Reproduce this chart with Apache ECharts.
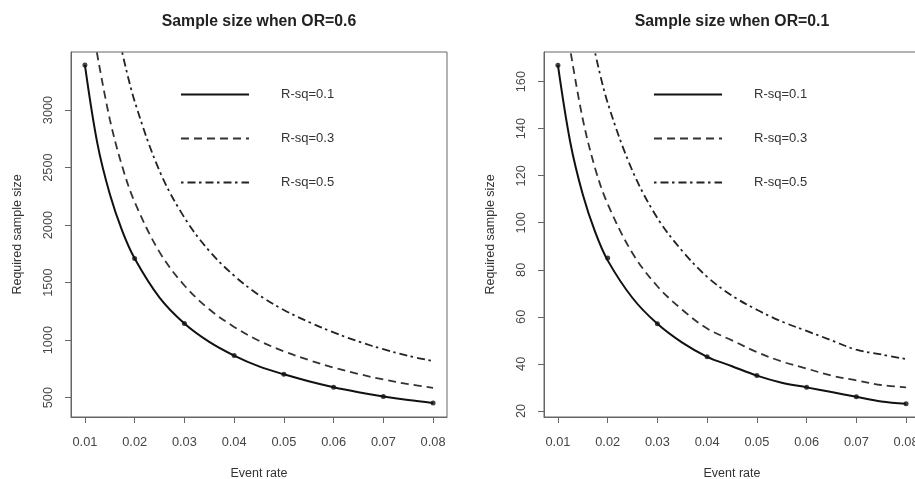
<!DOCTYPE html>
<html>
<head>
<meta charset="utf-8">
<script src="https://cdn.jsdelivr.net/npm/echarts@6/dist/echarts.min.js"></script>
<style>
html,body{margin:0;padding:0;background:#fff;}
#chart{width:915px;height:479px;}
</style>
</head>
<body>
<div id="chart"></div>
<script>
// ---------- data ----------
const titles = ['Sample size when OR=0.6', 'Sample size when OR=0.1'];
const seriesNames = ['R-sq=0.1', 'R-sq=0.3', 'R-sq=0.5'];
const xTicks = [0.01, 0.02, 0.03, 0.04, 0.05, 0.06, 0.07, 0.08];
const yTicksLeft = [500, 1000, 1500, 2000, 2500, 3000];
const yTicksRight = [20, 40, 60, 80, 100, 120, 140, 160];

// event-rate positions of the read points
const rateR01 = [0.01, 0.0125, 0.015, 0.0175, 0.02, 0.025, 0.03, 0.035, 0.04, 0.045, 0.05, 0.055, 0.06, 0.065, 0.07, 0.075, 0.08];
const rateR03Left = [0.0124, 0.015, 0.0175, 0.02, 0.025, 0.03, 0.035, 0.04, 0.045, 0.05, 0.055, 0.06, 0.065, 0.07, 0.075, 0.08];
const rateR03Right = [0.0126, 0.015, 0.0175, 0.02, 0.025, 0.03, 0.035, 0.04, 0.045, 0.05, 0.055, 0.06, 0.065, 0.07, 0.075, 0.08];
const rateR05 = [0.0175, 0.02, 0.025, 0.03, 0.035, 0.04, 0.045, 0.05, 0.055, 0.06, 0.065, 0.07, 0.075, 0.08];

// OR = 0.6
const or06R01 = [3390, 2710, 2270, 1950, 1710, 1370, 1145, 985, 866, 772, 703, 643, 591, 548, 511, 480, 454];
const or06R03 = [3500, 2920, 2510, 2200, 1765, 1475, 1268, 1115, 995, 903, 827, 761, 706, 658, 618, 585];
const or06R05 = [3500, 3075, 2470, 2065, 1775, 1560, 1392, 1262, 1158, 1067, 988, 921, 863, 818];
const or06Markers = [3390, 1710, 1145, 866, 703, 591, 511, 454];

// OR = 0.1
const or01R01 = [167, 134, 112, 96, 84, 68, 57, 49, 43, 39, 35, 32, 30, 28, 26, 24, 23];
const or01R03 = [172, 144, 123, 108, 87, 73, 63, 55, 50, 45, 41, 38, 35, 33, 31, 30];
const or01R05 = [172, 151, 122, 102, 88, 77, 69, 63, 58, 54, 50, 46, 44, 42];
const or01Markers = [167, 85, 57, 43, 35, 30, 26, 23];

// ---------- helpers ----------
const zip = (xs, ys) => xs.map((x, i) => [x, ys[i]]);
const FONT = 'Liberation Sans, Arial, Helvetica, sans-serif';
const boxColor = '#666';
const lineStyles = [
  { color: '#111', width: 2, type: 'solid' },
  { color: '#333', width: 1.8, type: [8, 5] },
  { color: '#222', width: 1.8, type: [2.5, 4, 8, 3.5] }
];

function xAxisFor(gi) {
  return {
    gridIndex: gi, type: 'value', min: 0.0072, max: 0.0828,
    name: 'Event rate', nameLocation: 'middle', nameGap: 50,
    nameTextStyle: { fontFamily: FONT, fontSize: 12.5, color: '#333' },
    axisLine: { show: true, lineStyle: { color: boxColor, width: 1 } },
    axisTick: { show: true, customValues: xTicks, length: 6, lineStyle: { color: boxColor } },
    axisLabel: { customValues: xTicks, formatter: v => v.toFixed(2), margin: 19,
      fontFamily: FONT, fontSize: 12.8, color: '#444' },
    splitLine: { show: false }
  };
}
function yAxisFor(gi, min, max, ticks) {
  return {
    gridIndex: gi, type: 'value', min: min, max: max,
    name: 'Required sample size', nameLocation: 'middle', nameGap: 47,
    nameTextStyle: { fontFamily: FONT, fontSize: 12.5, color: '#333' },
    axisLine: { show: true, lineStyle: { color: boxColor, width: 1 } },
    axisTick: { show: true, customValues: ticks, length: 6, lineStyle: { color: boxColor } },
    axisLabel: { customValues: ticks, rotate: 90, margin: 16, formatter: v => String(v),
      fontFamily: FONT, fontSize: 12.8, color: '#444' },
    splitLine: { show: false }
  };
}
function lineSeries(gi, k, data) {
  return {
    name: seriesNames[k], type: 'line', xAxisIndex: gi, yAxisIndex: gi,
    data: data, smooth: 0.35, symbol: 'none', clip: true,
    lineStyle: lineStyles[k], itemStyle: { color: lineStyles[k].color },
    z: 3 - k
  };
}
function markerSeries(gi, data) {
  return {
    type: 'scatter', xAxisIndex: gi, yAxisIndex: gi, data: data,
    symbol: 'circle', symbolSize: 5, itemStyle: { color: '#111' }, z: 5
  };
}
function legendFor(left) {
  return {
    data: seriesNames, orient: 'vertical', left: left, top: 88, padding: 0,
    itemWidth: 68, itemHeight: 14, itemGap: 31, selectedMode: false,
    itemStyle: { opacity: 0 },
    textStyle: { fontFamily: FONT, fontSize: 13, color: '#333', padding: [0, 0, 0, 27] }
  };
}

const option = {
  animation: false,
  backgroundColor: '#fff',
  title: [
    { text: titles[0], left: 259, top: 14, textAlign: 'center', padding: 0,
      textStyle: { fontFamily: FONT, fontSize: 15.8, fontWeight: 'bold', color: '#222' } },
    { text: titles[1], left: 732, top: 14, textAlign: 'center', padding: 0,
      textStyle: { fontFamily: FONT, fontSize: 15.8, fontWeight: 'bold', color: '#222' } }
  ],
  legend: [legendFor(180), legendFor(653)],
  grid: [
    { left: 71, top: 52, width: 376, height: 365, show: true, borderColor: boxColor, borderWidth: 1,
      containLabel: false, outerBoundsMode: 'none' },
    { left: 544, top: 52, width: 376, height: 365, show: true, borderColor: boxColor, borderWidth: 1,
      containLabel: false, outerBoundsMode: 'none' }
  ],
  xAxis: [xAxisFor(0), xAxisFor(1)],
  yAxis: [yAxisFor(0, 332, 3504, yTicksLeft), yAxisFor(1, 17.4, 172.6, yTicksRight)],
  series: [
    lineSeries(0, 0, zip(rateR01, or06R01)),
    lineSeries(0, 1, zip(rateR03Left, or06R03)),
    lineSeries(0, 2, zip(rateR05, or06R05)),
    markerSeries(0, zip(xTicks, or06Markers)),
    lineSeries(1, 0, zip(rateR01, or01R01)),
    lineSeries(1, 1, zip(rateR03Right, or01R03)),
    lineSeries(1, 2, zip(rateR05, or01R05)),
    markerSeries(1, zip(xTicks, or01Markers))
  ]
};

const chart = echarts.init(document.getElementById('chart'), null, { renderer: 'canvas' });
chart.setOption(option);
</script>
</body>
</html>
